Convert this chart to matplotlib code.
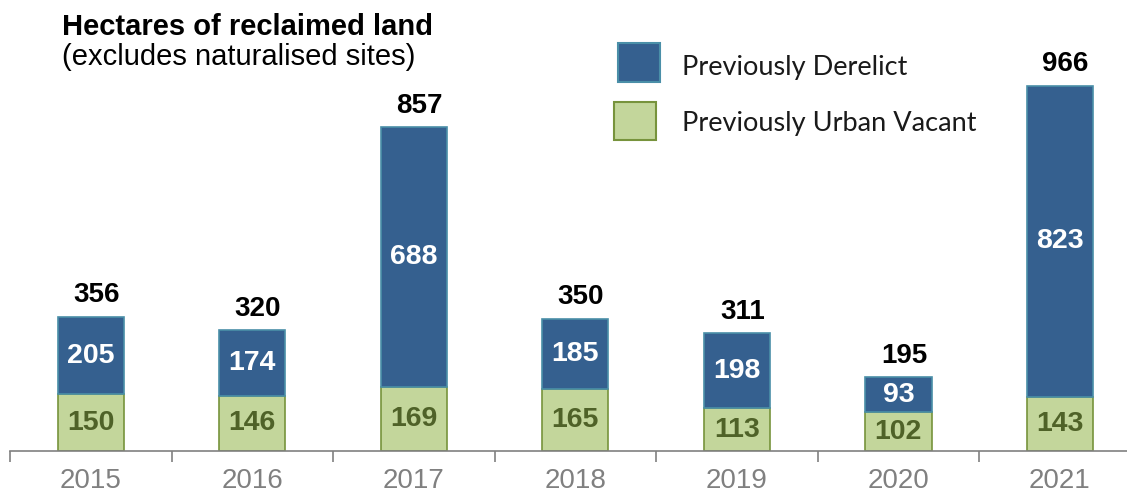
import matplotlib

matplotlib.use("Agg")

import matplotlib.pyplot as plt
from matplotlib.patches import Rectangle


YEARS = ["2015", "2016", "2017", "2018", "2019", "2020", "2021"]
URBAN_VACANT = [150, 146, 169, 165, 113, 102, 143]
DERELICT = [205, 174, 688, 185, 198, 93, 823]
TOTALS = [356, 320, 857, 350, 311, 195, 966]

BLUE = "#35608f"
BLUE_EDGE = "#4a8fa8"
GREEN = "#c3d69b"
GREEN_EDGE = "#77933c"
GREEN_TEXT = "#4f6228"
GREY = "#808080"

plt.rcParams["font.family"] = ["Liberation Sans", "DejaVu Sans"]

fig = plt.figure(figsize=(11.27, 4.95), dpi=100)
ax = fig.add_axes([10 / 1127, 44 / 495, 1 - 10 / 1127, 1 - 44 / 495])

x = list(range(len(YEARS)))
width = 0.41

ax.bar(x, URBAN_VACANT, width=width, color=GREEN, edgecolor=GREEN_EDGE, linewidth=1.2)
ax.bar(x, DERELICT, width=width, bottom=URBAN_VACANT, color=BLUE,
       edgecolor=BLUE_EDGE, linewidth=1.2)

for i in x:
    ax.text(i, URBAN_VACANT[i] / 2, str(URBAN_VACANT[i]), ha="center", va="center",
            fontsize=20.5, fontweight="bold", color=GREEN_TEXT)
    ax.text(i, URBAN_VACANT[i] + DERELICT[i] / 2, str(DERELICT[i]), ha="center",
            va="center", fontsize=20.5, fontweight="bold", color="white")
    ax.text(i + 0.035, URBAN_VACANT[i] + DERELICT[i] + 22, str(TOTALS[i]), ha="center",
            va="bottom", fontsize=20, fontweight="bold", color="black")

# axis: only the bottom line, ticks between categories
for side in ["left", "right", "top"]:
    ax.spines[side].set_visible(False)
ax.spines["bottom"].set_color(GREY)
ax.spines["bottom"].set_linewidth(1.2)
ax.set_yticks([])
ax.set_xticks(x)
ax.set_xticklabels(YEARS, fontsize=20, color=GREY)
ax.tick_params(axis="x", which="major", length=0, pad=12)
ax.set_xticks([i + 0.5 for i in range(-1, len(YEARS))], minor=True)
ax.tick_params(axis="x", which="minor", length=8, width=1.2, color=GREY, direction="out")

# limits last, so the tick calls don't widen them
ax.set_xlim(-0.5, 6.415)
ax.set_ylim(0, 1193)

fig.text(62 / 1127, 1 - 35 / 495, "Hectares of reclaimed land", fontsize=21,
         fontweight="bold", color="black", ha="left", va="baseline")
fig.text(62 / 1127, 1 - 65 / 495, "(excludes naturalised sites)", fontsize=21,
         color="black", ha="left", va="baseline")

# legend drawn by hand
fig.patches.append(Rectangle((618 / 1127, 1 - 82 / 495), 42 / 1127, 39 / 495,
                             transform=fig.transFigure, facecolor=BLUE,
                             edgecolor=BLUE_EDGE, linewidth=1.5))
fig.patches.append(Rectangle((614 / 1127, 1 - 140 / 495), 42 / 1127, 38 / 495,
                             transform=fig.transFigure, facecolor=GREEN,
                             edgecolor=GREEN_EDGE, linewidth=1.5))
fig.text(682 / 1127, 1 - 68 / 495, "Previously Derelict", fontsize=19.5,
         family=["Lato", "DejaVu Sans"], color="#1a1a1a", ha="left", va="center")
fig.text(682 / 1127, 1 - 123 / 495, "Previously Urban Vacant", fontsize=19.5,
         family=["Lato", "DejaVu Sans"], color="#1a1a1a", ha="left", va="center")

fig.savefig("out.png", dpi=100)
